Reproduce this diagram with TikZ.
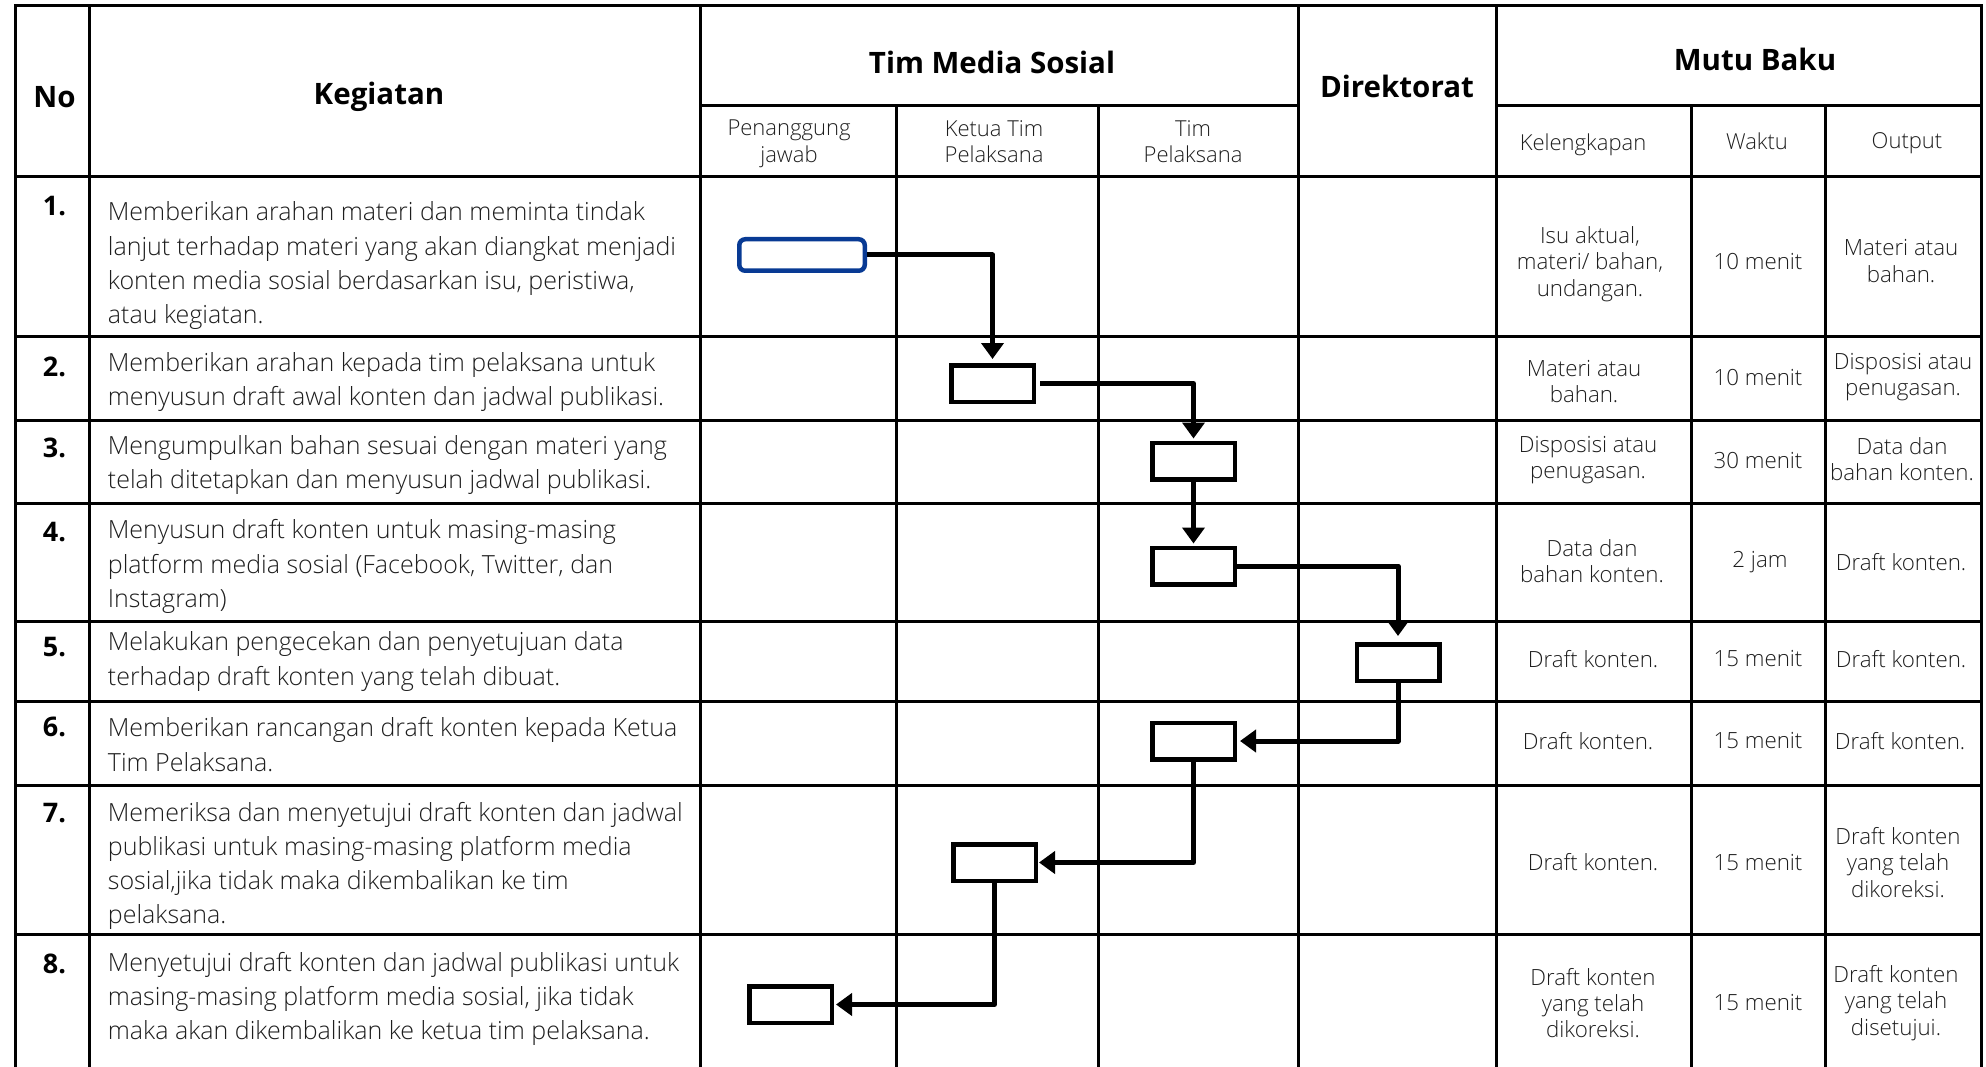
\documentclass[tikz,border=0pt]{standalone}
\usepackage{fontspec}
\setmainfont{Open Sans}
\newfontfamily\lightf{Open Sans Light}
\usetikzlibrary{arrows.meta}
\definecolor{boxblue}{RGB}{8,58,148}
\definecolor{txt}{RGB}{30,30,30}
\tikzset{
  tline/.style={line width=3pt, line cap=rect},
  hdr/.style={font=\bfseries\fontsize{29.5}{34}\selectfont, inner sep=0pt},
  subh/.style={font=\lightf\fontsize{22}{26.5}\selectfont, align=center, inner sep=0pt, text=txt},
  body/.style={font=\lightf\fontsize{25}{34.2}\selectfont, align=left, anchor=west, inner sep=0pt, text=txt},
  num/.style={font=\bfseries\fontsize{27}{30}\selectfont, inner sep=0pt},
  cell/.style={font=\lightf\fontsize{22.3}{26.3}\selectfont, align=center, inner sep=0pt, text=txt},
  stepbox/.style={draw, line width=4.5pt, minimum width=82.5pt, minimum height=36.5pt, inner sep=0pt},
  startbox/.style={draw=boxblue, line width=4.5pt, rounded corners=6pt, minimum width=125.5pt, minimum height=31.5pt, inner sep=0pt},
  conn/.style={line width=5pt, line join=round, -{Triangle[length=16pt,width=22pt]}}
}
\begin{document}
\begin{tikzpicture}[x=1pt,y=-1pt]
\useasboundingbox (0,0) rectangle (1986,1067);
% table lines
\draw[tline] (15,1070) -- (15,6) -- (1981,6) -- (1981,1070);
\foreach \x in {89.5,700.5,1298.5,1496} \draw[tline] (\x,6) -- (\x,1070);
\foreach \x in {896.5,1098,1691,1825} \draw[tline] (\x,106) -- (\x,1070);
\draw[tline] (700.5,106) -- (1298.5,106);
\draw[tline] (1496,106) -- (1981,106);
\foreach \y in {177,336.5,420,503,621.7,701.7,785,934.5} \draw[tline] (15,\y) -- (1981,\y);
% headers
\node[hdr] (hNo) at (54.5,97) {No};
\node[hdr] (hKeg) at (379,97) {Kegiatan};
\node[hdr] (hTim) at (992,62) {Tim Media Sosial};
\node[hdr] (hDir) at (1397,86) {Direktorat};
\node[hdr] (hMutu) at (1755,59) {Mutu Baku};
\node[subh] (hPj) at (789,144) {Penanggung\\jawab};
\node[subh] (hKt) at (994,141.5) {Ketua Tim\\Pelaksana};
\node[subh] (hTp) at (1193,141.5) {Tim\\Pelaksana};
\node[subh] (hKel) at (1583,144.5) {Kelengkapan};
\node[subh] (hWak) at (1757,141.5) {Waktu};
\node[subh] (hOut) at (1907,143) {Output};
% numbers
\node[num] (n1) at (54.5,206) {1.};
\node[num] (n2) at (54.5,367) {2.};
\node[num] (n3) at (54.5,448) {3.};
\node[num] (n4) at (54.5,532) {4.};
\node[num] (n5) at (54.5,647) {5.};
\node[num] (n6) at (54.5,727) {6.};
\node[num] (n7) at (54.5,813) {7.};
\node[num] (n8) at (54.5,964) {8.};
% activities
\node[body] (k1) at (107.7,265.8) {Memberikan arahan materi dan meminta tindak\\lanjut terhadap materi yang akan diangkat menjadi\\konten media sosial berdasarkan isu, peristiwa,\\atau kegiatan.};
\node[body] (k2) at (107.7,382) {Memberikan arahan kepada tim pelaksana untuk\\menyusun draft awal konten dan jadwal publikasi.};
\node[body] (k3) at (107.7,465) {Mengumpulkan bahan sesuai dengan materi yang\\telah ditetapkan dan menyusun jadwal publikasi.};
\node[body] (k4) at (107.7,566.6) {Menyusun draft konten untuk masing-masing\\platform media sosial (Facebook, Twitter, dan\\Instagram)};
\node[body] (k5) at (107.7,661.6) {Melakukan pengecekan dan penyetujuan data\\terhadap draft konten yang telah dibuat.};
\node[body] (k6) at (107.7,744.6) {Memberikan rancangan draft konten kepada Ketua\\Tim Pelaksana.};
\node[body] (k7) at (107.7,866) {Memeriksa dan menyetujui draft konten dan jadwal\\publikasi untuk masing-masing platform media\\sosial,jika tidak maka dikembalikan ke tim\\pelaksana.};
\node[body] (k8) at (107.7,999) {Menyetujui draft konten dan jadwal publikasi untuk\\masing-masing platform media sosial, jika tidak\\maka akan dikembalikan ke ketua tim pelaksana.};
% mutu baku cells
\node[cell] (c1a) at (1590,264) {Isu aktual,\\materi/ bahan,\\undangan.};
\node[cell] (c1b) at (1758,262) {10 menit};
\node[cell] (c1c) at (1901,261) {Materi atau\\bahan.};
\node[cell] (c2a) at (1584,381.5) {Materi atau\\bahan.};
\node[cell] (c2b) at (1758,377.4) {10 menit};
\node[cell] (c2c) at (1903,377) {Disposisi atau\\penugasan.};
\node[cell] (c3a) at (1588,460) {Disposisi atau\\penugasan.};
\node[cell] (c3b) at (1758,461) {30 menit};
\node[cell] (c3c) at (1902,459) {Data dan\\bahan konten.};
\node[cell] (c4a) at (1592,561) {Data dan\\bahan konten.};
\node[cell] (c4b) at (1760,562) {2 jam};
\node[cell] (c4c) at (1901,562) {Draft konten.};
\node[cell] (c5a) at (1593,658.6) {Draft konten.};
\node[cell] (c5b) at (1758,658.6) {15 menit};
\node[cell] (c5c) at (1901,658.6) {Draft konten.};
\node[cell] (c6a) at (1588,741) {Draft konten.};
\node[cell] (c6b) at (1758,741) {15 menit};
\node[cell] (c6c) at (1900,741) {Draft konten.};
\node[cell] (c7a) at (1593,862.5) {Draft konten.};
\node[cell] (c7b) at (1758,862.5) {15 menit};
\node[cell] (c7c) at (1898,862.5) {Draft konten\\yang telah\\dikoreksi.};
\node[cell] (c8a) at (1593,1003) {Draft konten\\yang telah\\dikoreksi.};
\node[cell] (c8b) at (1758,1003) {15 menit};
\node[cell] (c8c) at (1896,1003) {Draft konten\\yang telah\\disetujui.};
% flow boxes
\node[startbox] (b1) at (802,255) {};
\node[stepbox] (b2) at (992.5,383.5) {};
\node[stepbox] (b3) at (1193.5,461) {};
\node[stepbox] (b4) at (1193.5,566) {};
\node[stepbox] (b5) at (1398,662.5) {};
\node[stepbox] (b6) at (1193.5,741) {};
\node[stepbox] (b7) at (994.5,862.5) {};
\node[stepbox] (b8) at (790.5,1004.5) {};
% connectors
\draw[conn, shorten >=4pt] (b1.east) -| (b2.north);
\draw[conn, shorten >=2pt, shorten <=4pt] (b2.east) -| (b3.north);
\draw[conn, shorten >=2pt] (b3.south) -- (b4.north);
\draw[conn, shorten >=6pt] (b4.east) -| (b5.north);
\draw[conn, shorten >=3pt] (b5.south) |- (b6.east);
\draw[conn, shorten >=1pt] (b6.south) |- (b7.east);
\draw[conn, shorten >=2pt] (b7.south) |- (b8.east);
\end{tikzpicture}
\end{document}
